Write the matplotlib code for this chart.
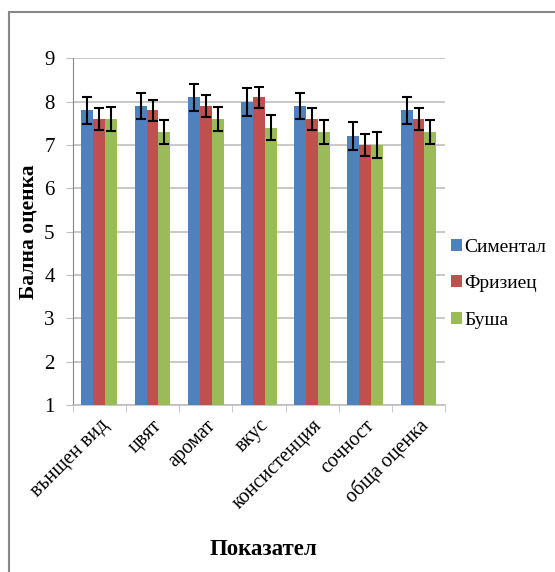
import matplotlib
matplotlib.use('Agg')
import matplotlib.pyplot as plt
from matplotlib.patches import Rectangle
import numpy as np

plt.rcParams['font.family'] = ['Liberation Serif', 'DejaVu Serif']

categories = ['вънщен вид', 'цвят', 'аромат', 'вкус', 'консистенция', 'сочност', 'обща оценка']
series = ['Симентал', 'Фризиец', 'Буша']
simental = [7.8, 7.9, 8.1, 8.0, 7.9, 7.2, 7.8]
frizietz = [7.6, 7.8, 7.9, 8.1, 7.6, 7.0, 7.6]
busha = [7.6, 7.3, 7.6, 7.4, 7.3, 7.0, 7.3]
simental_err = [0.31, 0.31, 0.31, 0.32, 0.31, 0.32, 0.31]
frizietz_err = [0.25, 0.25, 0.25, 0.25, 0.25, 0.25, 0.25]
busha_err = [0.28, 0.28, 0.28, 0.29, 0.28, 0.30, 0.28]
colors = ['#4F81BD', '#C0504D', '#9BBB59']

fig = plt.figure(figsize=(5.55, 5.72), dpi=100)
ax = fig.add_axes([0.131, 0.292, 0.671, 0.606])

x = np.arange(len(categories))
w = 0.225
vals = [simental, frizietz, busha]
errs = [simental_err, frizietz_err, busha_err]
for i, (v, e, c, name) in enumerate(zip(vals, errs, colors, series)):
    heights = np.array(v) - 1
    ax.bar(x + (i - 1) * w, heights, w, bottom=1, color=c, label=name, zorder=3)
    ax.errorbar(x + (i - 1) * w, v, yerr=e, fmt='none', ecolor='black',
                elinewidth=1.5, capsize=3.5, capthick=1.5, zorder=4)

ax.set_xlim(-0.5, len(categories) - 0.5)
ax.set_ylim(1, 9)
ax.set_yticks(range(1, 10))
ax.yaxis.grid(True, color='#BFBFBF', linewidth=1.2, zorder=0)
ax.set_axisbelow(True)
for s in ['top', 'right']:
    ax.spines[s].set_visible(False)
ax.spines['left'].set_color('#888888')
ax.spines['bottom'].set_color('#BFBFBF')
ax.spines['bottom'].set_linewidth(1.2)
ax.tick_params(axis='y', length=5, color='#BFBFBF', labelsize=15, pad=8)
ax.set_xticks(np.arange(len(categories) + 1) - 0.5, minor=True)
ax.set_xticks(x)
ax.set_xticklabels(categories, rotation=45, ha='right', rotation_mode='anchor', fontsize=14.5)
ax.tick_params(axis='x', which='major', length=0, pad=8)
ax.tick_params(axis='x', which='minor', length=5, color='#BFBFBF')

ax.set_ylabel('Бална оценка', fontsize=15.5, fontweight='bold', labelpad=4)
fig.text(0.475, 0.03, 'Показател', fontsize=16.5, fontweight='bold', ha='center')

ax.legend(loc='center left', bbox_to_anchor=(1.0, 0.35), frameon=False, fontsize=14,
          handlelength=0.55, handleheight=0.55, handletextpad=0.15, labelspacing=1.0,
          borderpad=0, borderaxespad=0.3)

fig.patches.append(Rectangle((9 / 555, -0.1), 1.2, 1 - 12 / 572 + 0.1, transform=fig.transFigure,
                             fill=False, edgecolor='#888888', linewidth=1.5))

fig.savefig('out.png', dpi=100)
